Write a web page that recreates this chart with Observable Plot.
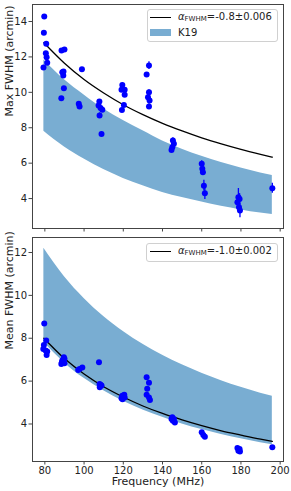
<!DOCTYPE html>
<html><head><meta charset="utf-8">
<script src="https://cdn.jsdelivr.net/npm/d3@7"></script>
<script src="https://cdn.jsdelivr.net/npm/@observablehq/plot@0.6"></script>
<style>
body{margin:0;background:#fff;}
#chart{position:relative;width:291px;height:491px;font-family:"DejaVu Sans",sans-serif;color:#222;}
#chart svg{display:block;}
.leg{position:absolute;border:1px solid #d0d0d0;border-radius:3px;background:rgba(255,255,255,0.85);box-sizing:border-box;}
.lline{position:absolute;height:0;border-top:1.4px solid #000;}
.lpatch{position:absolute;background:#79add2;}
.ltext{position:absolute;font-size:10px;line-height:12px;white-space:nowrap;color:#222;}
.ltext sub{font-size:7px;vertical-align:-1px;}
</style></head>
<body><div id="chart"></div>
<script>
// ---- data ----
const xTicks = [80,100,120,140,160,180,200];
const yTicks = [4,6,8,10,12,14];

const freqTop = [79.7,79.5,80.7,80.5,80.9,81.2,79.3, 88.4,88.5,90.0,88.9,89.5,89.4,89.7, 98.9,97.3,97.7, 107.8,107.4,108.4,109.3,107.9,108.9, 119.5,120.7,119.1,120.7,120.3,119.3, 133.1,131.9,133.1,132.6,133.4,133.1, 145.3,145.8,145.0,144.6, 160.0,160.3,160.6,161.1,161.6, 178.7,179.3,178.2,179.0,179.5, 196.0];
const maxTop = [14.28,13.36,12.74,12.21,11.98,11.67,11.40, 9.67,12.36,12.42,11.14,11.18,10.95,10.23, 11.31,9.35,9.20, 9.48,9.25,9.12,9.01,8.69,7.65, 10.42,10.14,10.14,9.86,9.29,9.00, 11.51,11.00,10.00,9.72,9.54,9.20, 7.28,7.09,6.90,6.75, 5.96,5.68,5.49,4.73,4.30, 4.07,3.98,3.79,3.51,3.32, 4.58];
const errTop = [0.05,0.05,0.05,0.05,0.05,0.05,0.05, 0.05,0.05,0.05,0.05,0.05,0.05,0.05, 0.05,0.1,0.1, 0.1,0.1,0.1,0.1,0.15,0.1, 0.1,0.1,0.1,0.1,0.1,0.1, 0.22,0.1,0.15,0.15,0.15,0.15, 0.15,0.15,0.15,0.15, 0.18,0.18,0.18,0.3,0.35, 0.5,0.3,0.3,0.35,0.4, 0.28];

const freqBot = [79.7,79.5,79.2,80.7,80.4,81.2,80.9, 88.4,89.7,90.0,88.9,88.7,90.0, 97.7,99.1,97.0, 107.6,107.9,108.9,108.0,108.4, 119.5,120.7,119.6,120.5,119.1, 131.9,133.1,132.2,131.9,133.1,133.6, 145.0,145.8,145.3,146.3,144.6, 160.0,160.8,161.6, 178.2,179.3,178.7,179.5, 196.0];
const meanBot = [8.69,7.69,7.50,7.89,7.43,7.38,7.22, 6.80,7.11,7.04,6.96,6.88,6.83, 6.57,6.64,6.52, 6.88,5.87,5.79,5.71,5.83, 5.32,5.24,5.15,5.36,5.20, 6.18,5.92,5.64,5.36,5.24,5.12, 4.31,4.23,4.15,4.07,4.23, 3.61,3.49,3.41, 2.88,2.83,2.75,2.72, 2.91];

const curveFreq = [79.5,90,100,110,120,130,140,150,160,170,180,190,196];
const fitTop   = [12.80,11.64,10.72,9.96,9.30,8.74,8.25,7.82,7.43,7.09,6.78,6.50,6.34];
const bandTopHi = [11.83,10.71,9.85,9.06,8.41,7.83,7.25,6.79,6.39,6.04,5.73,5.45,5.30];
const bandTopLo = [7.80,6.91,6.23,5.64,5.14,4.72,4.35,4.06,3.80,3.56,3.36,3.18,3.10];
const fitBot   = [8.00,7.05,6.33,5.74,5.26,4.84,4.49,4.19,3.92,3.68,3.48,3.29,3.19];
const bandBotHi = [12.20,10.87,9.86,9.02,8.32,7.72,7.21,6.76,6.37,6.02,5.71,5.43,5.29];
const bandBotLo = [7.80,6.85,6.13,5.55,5.06,4.65,4.31,4.00,3.74,3.51,3.31,3.12,3.03];

// ---- build ----
const curveRows = (ys) => curveFreq.map((f,i)=>({f, v: ys[i]}));
const bandRows = (lo,hi) => curveFreq.map((f,i)=>({f, lo: lo[i], hi: hi[i]}));

function panel({height, marginTop, marginBottom, yDomain, band, fit, pts, err, ylabel, xlabelled}) {
  const rows = pts.f.map((f,i)=>({f, v: pts.v[i], e: err ? err[i] : 0}));
  const yt = yTicks.filter(t => t >= yDomain[0] && t <= yDomain[1]);
  const marks = [
    Plot.areaY(band, {x:"f", y1:"lo", y2:"hi", fill:"#79add2", curve:"monotone-x"}),
    Plot.line(fit, {x:"f", y:"v", stroke:"#000", strokeWidth:1.3, curve:"monotone-x"}),
  ];
  if (err) marks.push(Plot.ruleX(rows, {x:"f", y1:d=>d.v-d.e, y2:d=>d.v+d.e, stroke:"#0000ff", strokeWidth:1.3}));
  marks.push(
    Plot.dot(rows, {x:"f", y:"v", r:3, fill:"#0000ff", stroke:null}),
    Plot.frame({stroke:"#444", strokeWidth:1}),
    Plot.axisX({ticks:xTicks, tickSize:3.5, tickPadding:2, tickFormat: xlabelled ? (d=>String(d)) : (()=>""), label:null, stroke:"#444"}),
    Plot.axisY({ticks:yt, tickSize:3.5, tickPadding:2, label:null, stroke:"#444"}),
    Plot.text([ylabel], {text:d=>d, frameAnchor:"left", dx:-23.5, rotate:-90, fontSize:11, fill:"#222"})
  );
  if (xlabelled) marks.push(Plot.text(["Frequency (MHz)"], {text:d=>d, frameAnchor:"bottom", lineAnchor:"middle", dy:20, fontSize:11, fill:"#222"}));
  return Plot.plot({
    width:291, height, marginLeft:32, marginRight:8, marginTop, marginBottom,
    style:{fontFamily:"DejaVu Sans", fontSize:"10px", color:"#222", background:"white", overflow:"visible"},
    x:{domain:[73.7,201.7]},
    y:{domain:yDomain},
    marks
  });
}

const chart = document.getElementById("chart");
chart.appendChild(panel({height:237, marginTop:4, marginBottom:9, yDomain:[2.31,14.96],
  band: bandRows(bandTopLo, bandTopHi), fit: curveRows(fitTop), pts:{f:freqTop, v:maxTop}, err: errTop,
  ylabel:"Max FWHM (arcmin)", xlabelled:false}));
chart.appendChild(panel({height:254, marginTop:0, marginBottom:30, yDomain:[2.25,12.7],
  band: bandRows(bandBotLo, bandBotHi), fit: curveRows(fitBot), pts:{f:freqBot, v:meanBot}, err: null,
  ylabel:"Mean FWHM (arcmin)", xlabelled:true}));

// ---- legends ----
function el(cls, css, html){ const d=document.createElement("div"); d.className=cls; Object.assign(d.style, css); if(html) d.innerHTML=html; chart.appendChild(d); return d; }
el("leg", {left:"146.5px", top:"9px", width:"131.5px", height:"33px"});
el("lline", {left:"150px", top:"17px", width:"21px"});
el("ltext", {left:"178px", top:"10.5px"}, "<i>α</i><sub>FWHM</sub>=-0.8±0.006");
el("lpatch", {left:"150px", top:"29px", width:"21px", height:"7px"});
el("ltext", {left:"178px", top:"26.5px"}, "K19");
el("leg", {left:"146px", top:"243px", width:"132px", height:"18.5px"});
el("lline", {left:"150px", top:"251px", width:"21px"});
el("ltext", {left:"178px", top:"244.5px"}, "<i>α</i><sub>FWHM</sub>=-1.0±0.002");
</script></body></html>
